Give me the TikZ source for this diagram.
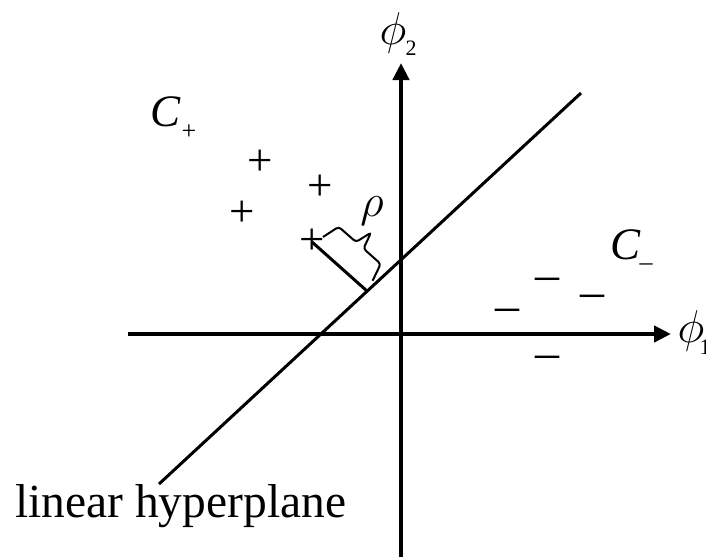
\documentclass[tikz,border=0pt]{standalone}
\usepackage{fix-cm}
\usepackage{fontspec}
\setmainfont{Liberation Serif}
\usetikzlibrary{arrows.meta}
\begin{document}
\begin{tikzpicture}[x=1pt,y=-1pt,
  axis/.style={line width=4.5pt,-{Triangle[length=17pt,width=16pt]}},
  plane/.style={line width=3pt},
  bracket/.style={line width=2pt,rounded corners=3pt},
  bigsym/.style={inner sep=0pt,font=\fontsize{45}{45}\selectfont},
  minussym/.style={inner sep=0pt,font=\fontsize{48}{48}\selectfont},
  greek/.style={inner sep=0pt,font=\fontsize{46}{46}\selectfont},
  clabel/.style={inner sep=0pt,font=\fontsize{45}{45}\selectfont\itshape},
  sub/.style={inner sep=0pt,font=\fontsize{26}{26}\selectfont},
  subnum/.style={inner sep=0pt,font=\fontsize{22}{22}\selectfont}]
\useasboundingbox (0,0) rectangle (706,557);
% axes
\coordinate (hx0) at (128,334);
\coordinate (hx1) at (671,334);
\coordinate (vy0) at (401,557);
\coordinate (vy1) at (401,63);
\draw[axis] (hx0) -- (hx1);
\draw[axis] (vy0) -- (vy1);
% axis labels
\node[greek] (phi1) at (691,331) {$\phi$};
\node[subnum] (phi1s) at (705,347) {1};
\node[greek] (phi2) at (393,33) {$\phi$};
\node[subnum] (phi2s) at (411,48) {2};
% hyperplane
\coordinate (hp0) at (159,484);
\coordinate (hp1) at (581,93);
\draw[plane] (hp0) -- (hp1);
% class labels
\node[clabel] (cplus) at (166,112) {C};
\node[sub] (cplussub) at (189,132) {+};
\node[clabel] (cminus) at (625,245) {C};
\node[sub] (cminussub) at (646,267) {–};
% plus points
\node[bigsym] (p1) at (260,163) {+};
\node[bigsym] (p2) at (320,188) {+};
\node[bigsym] (p3) at (242,214) {+};
\node[bigsym] (p4) at (312,242) {+};
% minus points
\node[minussym] (m1) at (547,284) {–};
\node[minussym] (m2) at (592,301) {–};
\node[minussym] (m3) at (507,315) {–};
\node[minussym] (m4) at (547,362) {–};
% margin
\coordinate (foot) at (367,291);
\draw[plane] (p4.center) -- (foot);
\draw[bracket] (323.0,237.0) -- (338.7,226.8) -- (356.0,242.0) -- (371.0,232.6)
  -- (363.5,248.6) -- (380.7,263.9) -- (372.6,280.7);
\node[greek] (rho) at (372,211) {$\rho$};
% caption
\node[inner sep=0pt,anchor=base west,font=\fontsize{47.5}{47.5}\selectfont] (cap) at (15,517) {linear hyperplane};
\end{tikzpicture}
\end{document}
